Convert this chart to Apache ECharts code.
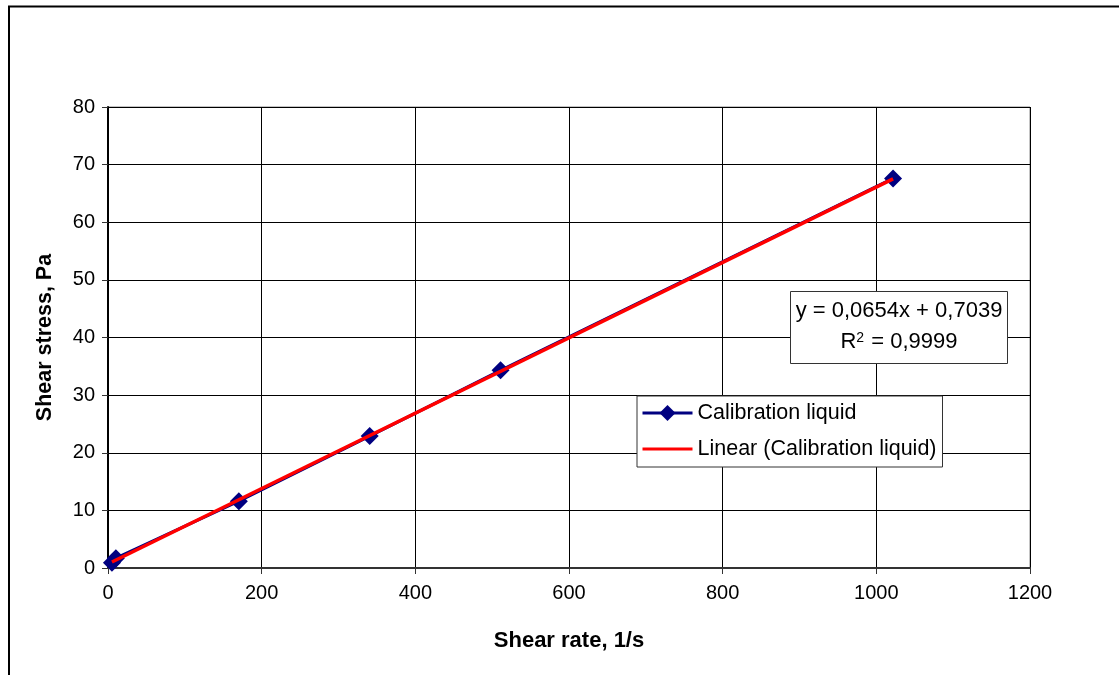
<!DOCTYPE html>
<html>
<head>
<meta charset="utf-8">
<script src="https://cdn.jsdelivr.net/npm/echarts@6/dist/echarts.min.js"></script>
<style>html,body{margin:0;padding:0;background:#fff;}#c{width:1119px;height:675px;}</style>
</head>
<body>
<div id="c"></div>
<script>
const shearRate = [5.11, 10.22, 170.3, 340.6, 510.9, 1021.8];
const shearStress = [0.9, 1.7, 11.6, 22.9, 34.3, 67.6];
const trendX = [5.11, 1021.8];
const trendY = [1.04, 67.53];
const xTicks = [0, 200, 400, 600, 800, 1000, 1200];
const yTicks = [0, 10, 20, 30, 40, 50, 60, 70, 80];
const seriesName = 'Calibration liquid';
const trendName = 'Linear (Calibration liquid)';
const eqLine1 = 'y = 0,0654x + 0,7039';
const eqLine2 = 'R{sup|2} = 0,9999';

const font = 'Liberation Sans, Arial, sans-serif';
const chart = echarts.init(document.getElementById('c'), null, {renderer: 'canvas'});
chart.setOption({
  animation: false,
  backgroundColor: '#fff',
  grid: {left: 108, top: 107, right: 89, bottom: 107, show: true, borderColor: '#888', borderWidth: 1, backgroundColor: 'transparent'},
  xAxis: {
    type: 'value', min: xTicks[0], max: xTicks[xTicks.length-1], interval: 200,
    name: 'Shear rate, 1/s', nameLocation: 'middle', nameGap: 62,
    nameTextStyle: {fontFamily: font, fontSize: 22, fontWeight: 'bold', color: '#000'},
    axisLine: {onZero: false, lineStyle: {color: '#333', width: 2}},
    axisTick: {show: true, length: 6, inside: false, lineStyle: {color: '#333'}},
    axisLabel: {fontFamily: font, fontSize: 20, color: '#000', margin: 15, formatter: v => String(v)},
    splitLine: {show: true, lineStyle: {color: '#000', width: 1}}
  },
  yAxis: {
    type: 'value', min: yTicks[0], max: yTicks[yTicks.length-1], interval: 10,
    name: 'Shear stress, Pa', nameLocation: 'middle', nameGap: 52,
    nameTextStyle: {fontFamily: font, fontSize: 21.5, fontWeight: 'bold', color: '#000'},
    axisLine: {onZero: false, lineStyle: {color: '#000', width: 2}},
    axisTick: {show: true, length: 6, lineStyle: {color: '#333'}},
    axisLabel: {fontFamily: font, fontSize: 20, color: '#000', margin: 13, formatter: v => String(v)},
    splitLine: {show: true, lineStyle: {color: '#000', width: 1}}
  },
  legend: {
    left: 637, top: 396, orient: 'vertical',
    padding: [6, 6, 7, 4], itemGap: 14,
    borderColor: '#333', borderWidth: 1, backgroundColor: '#fff',
    itemWidth: 50, itemHeight: 20,
    lineStyle: {width: 3},
    textStyle: {fontFamily: font, fontSize: 21.5, color: '#000'},
    data: [{name: seriesName}, {name: trendName, itemStyle: {opacity: 0}}]
  },
  graphic: [
    {type: 'rect', shape: {x: 9, y: 6.5, width: 1200, height: 700}, style: {fill: 'none', stroke: '#000', lineWidth: 2}, silent: true, z: -1},
    {type: 'rect', shape: {x: 790.5, y: 291.5, width: 217, height: 72}, style: {fill: '#fff', stroke: '#333', lineWidth: 1}, z: 50},
    {type: 'text', x: 899, y: 300, style: {text: eqLine1, font: '22px ' + font, fill: '#000', align: 'center'}, z: 51},
    {type: 'text', x: 899, y: 331, style: {text: eqLine2, font: '22px ' + font, fill: '#000', align: 'center', rich: {sup: {fontSize: 14, fontFamily: font, verticalAlign: 'top', lineHeight: 14, padding: [0, 1, 12, 0]}}}, z: 51}
  ],
  series: [
    {
      name: seriesName, type: 'line', data: shearRate.map((x, i) => [x, shearStress[i]]),
      symbol: 'diamond', symbolSize: 18,
      lineStyle: {color: '#000080', width: 3}, itemStyle: {color: '#000080'}, z: 3
    },
    {
      name: trendName, type: 'line', data: trendX.map((x, i) => [x, trendY[i]]),
      symbol: 'none', lineStyle: {color: '#ff0000', width: 3.5}, itemStyle: {color: '#ff0000'}, z: 4
    }
  ]
});
</script>
</body>
</html>
